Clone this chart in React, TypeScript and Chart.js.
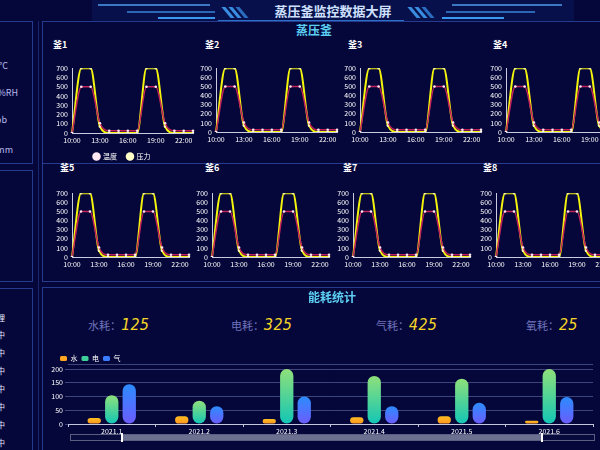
import React, { useEffect, useRef } from "react";
import { Chart, registerables } from "chart.js";
Chart.register(...registerables);

const FONT = "'Noto Sans CJK SC', 'Noto Sans', sans-serif";
Chart.defaults.font.family = FONT;

// ---- data ----
const hours = ["10:00", "11:00", "12:00", "13:00", "14:00", "15:00", "16:00", "17:00", "18:00", "19:00", "20:00", "21:00", "22:00", "23:00"];
const tempValues = [0, 500, 500, 105, 25, 25, 25, 25, 500, 500, 105, 25, 25, 25];
const pressureValues = [0, 700, 700, 70, 0, 0, 0, 0, 700, 700, 70, 0, 0, 0];
const kettleNames = ["釜1", "釜2", "釜3", "釜4", "釜5", "釜6", "釜7", "釜8"];
const lineSeriesNames = ["温度", "压力"];

const months = ["2021.1", "2021.2", "2021.3", "2021.4", "2021.5", "2021.6"];
const water = [22, 28, 18, 25, 28, 12];
const power = [105, 85, 200, 175, 165, 200];
const gas = [145, 65, 100, 65, 77, 98];
const barSeriesNames = ["水", "电", "气"];

const statLabels = ["水耗：", "电耗：", "气耗：", "氧耗："];
const statValues = ["125", "325", "425", "25"];
const sensorUnits = ["°C", "%RH", "ppb", "mm"];
const statusTexts = ["处理", "运行中", "运行中", "运行中", "运行中", "运行中", "运行中", "运行中"];

// ---- layout (styles) ----
const row1 = { top: 60, plotLefts: [72, 216, 360, 506], plotW: 122, titleX: [53, 205, 348, 493], titleY: 38 };
const row2 = { top: 185, plotLefts: [72, 212, 353, 496], plotW: 118, titleX: [60, 205, 343, 483], titleY: 161 };
const BORDER = "rgba(48,78,170,0.75)";

function KettleChart({ left, top, plotW, legend }: { left: number; top: number; plotW: number; legend: boolean }) {
  const ref = useRef<HTMLCanvasElement>(null);
  const yW = 22;
  const w = yW + plotW + 3;
  const h = legend ? 110 : 82;
  useEffect(() => {
    const chart = new Chart(ref.current!, {
      type: "line",
      data: {
        labels: hours,
        datasets: [
          {
            label: lineSeriesNames[0],
            data: tempValues,
            borderColor: "#c2235a",
            backgroundColor: "#fbe4ef",
            borderWidth: 1.5,
            pointRadius: 1.3,
            pointBackgroundColor: "#ffe8f2",
            pointBorderColor: "#ffe8f2",
            pointBorderWidth: 0,
            cubicInterpolationMode: "monotone",
          },
          {
            label: lineSeriesNames[1],
            data: pressureValues,
            borderColor: "#f4f40c",
            backgroundColor: "#ffffb8",
            borderWidth: 2,
            pointRadius: 1.3,
            pointBackgroundColor: "#ffffc8",
            pointBorderColor: "#ffffc8",
            pointBorderWidth: 0,
            cubicInterpolationMode: "monotone",
          },
        ],
      },
      options: {
        animation: false,
        responsive: false,
        maintainAspectRatio: false,
        layout: { padding: { top: 7, right: 3, left: 0, bottom: 0 } },
        plugins: {
          tooltip: { enabled: false },
          legend: {
            display: legend,
            position: "bottom",
            labels: {
              color: "#ffffff",
              font: { size: 7 },
              usePointStyle: true,
              pointStyle: "circle",
              boxWidth: 6,
              boxHeight: 6,
              padding: 10,
            },
          },
        },
        scales: {
          x: {
            grid: { display: false, drawTicks: false },
            border: { color: "#c9cbe0" },
            ticks: {
              color: "#ffffff",
              font: { size: 7 },
              padding: 3,
              autoSkip: false,
              maxRotation: 0,
              callback: (_v: any, i: number) => (i % 3 === 0 ? hours[i] : ""),
            },
            afterFit: (s: any) => {
              s.height = 10;
            },
          },
          y: {
            min: 0,
            max: 700,
            grid: { display: false, drawTicks: false },
            border: { color: "#c9cbe0" },
            ticks: { stepSize: 100, autoSkip: false, color: "#ffffff", font: { size: 7 }, padding: 4 },
            afterFit: (s: any) => {
              s.width = yW;
            },
          },
        },
      } as any,
    });
    return () => chart.destroy();
  }, []);
  return (
    <canvas
      ref={ref}
      width={w}
      height={h}
      style={{ position: "absolute", left: left - yW, top, width: w, height: h }}
    />
  );
}

function barGradient(ctx: any, top: string, bottom: string) {
  const chart = ctx.chart;
  const area = chart.chartArea;
  if (!area || ctx.raw == null) return bottom;
  const ys = chart.scales.y;
  const y0 = ys.getPixelForValue(0);
  const y1 = ys.getPixelForValue(ctx.raw);
  const g = chart.ctx.createLinearGradient(0, y1, 0, y0 === y1 ? y1 + 1 : y0);
  g.addColorStop(0, top);
  g.addColorStop(1, bottom);
  return g;
}

const barColors = [
  { top: "#ffbe22", bottom: "#ff9420", solid: "#ffa520" },
  { top: "#8fe07a", bottom: "#12c6b6", solid: "#3ccf9a" },
  { top: "#2c8cff", bottom: "#6d5cff", solid: "#3a7cff" },
];

// nudges the legend right so it starts where the reference's does
const legendShift = {
  id: "legendShift",
  afterLayout(chart: any) {
    if (chart.legend) {
      chart.legend.left += 6;
    }
  },
};

function EnergyChart() {
  const ref = useRef<HTMLCanvasElement>(null);
  useEffect(() => {
    const series = [water, power, gas];
    const chart = new Chart(ref.current!, {
      type: "bar",
      data: {
        labels: months,
        datasets: series.map((d, i) => ({
          label: barSeriesNames[i],
          data: d,
          backgroundColor: (c: any) => barGradient(c, barColors[i].top, barColors[i].bottom),
          borderRadius: 7,
          borderSkipped: false,
          categoryPercentage: 0.6,
          barPercentage: 0.76,
        })),
      },
      options: {
        animation: false,
        responsive: false,
        maintainAspectRatio: false,
        layout: { padding: { top: 0, right: 5, left: 6, bottom: 0 } },
        plugins: {
          tooltip: { enabled: false },
          legend: {
            position: "top",
            align: "start",
            maxHeight: 18,
            labels: {
              color: "#ffffff",
              font: { size: 7 },
              boxWidth: 7,
              boxHeight: 5,
              padding: 4,
              generateLabels: () =>
                barSeriesNames.map((n, i) => ({
                  text: n,
                  fillStyle: barColors[i].solid,
                  strokeStyle: barColors[i].solid,
                  lineWidth: 0,
                  fontColor: "#ffffff",
                  datasetIndex: i,
                  hidden: false,
                  borderRadius: 1.5,
                })),
            },
          },
        },
        scales: {
          x: {
            grid: { display: true, drawOnChartArea: false, drawTicks: true, tickLength: 3, color: "#c3c6dc", offset: true },
            border: { color: "#c3c6dc" },
            ticks: { color: "#ffffff", font: { size: 7 }, padding: 0, maxRotation: 0 },
            afterFit: (s: any) => {
              s.height = 12;
            },
          },
          y: {
            min: 0,
            max: 200,
            grid: { color: "rgba(110,120,180,0.55)", drawTicks: true, tickLength: 3 },
            border: { display: false },
            ticks: { stepSize: 50, autoSkip: false, color: "#ffffff", font: { size: 7 }, padding: 2 },
            afterFit: (s: any) => {
              s.width = 18;
            },
          },
        },
      } as any,
      plugins: [legendShift],
    });
    return () => chart.destroy();
  }, []);
  return (
    <canvas ref={ref} width={554} height={85} style={{ position: "absolute", left: 44, top: 351, width: 554, height: 85 }} />
  );
}

function Box({ l, t, w, h }: { l: number; t: number; w: number; h: number }) {
  return <div style={{ position: "absolute", left: l, top: t, width: w, height: h, border: `1px solid ${BORDER}`, boxSizing: "border-box" }} />;
}

function HLine({ l, t, w, c, h = 1 }: { l: number; t: number; w: number; c: string; h?: number }) {
  return <div style={{ position: "absolute", left: l, top: t, width: w, height: h, background: c }} />;
}

function Slant({ l, t, w, h, c }: { l: number; t: number; w: number; h: number; c: string }) {
  return (
    <div style={{ position: "absolute", left: l, top: t, width: w, height: h, background: c, transform: "skewX(40deg)" }} />
  );
}

export default function App() {
  const txt = (extra: any) => ({ position: "absolute" as const, fontFamily: FONT, whiteSpace: "nowrap" as const, ...extra });
  return (
    <div
      style={{
        position: "fixed",
        left: 0,
        top: 0,
        width: 600,
        height: 450,
        overflow: "hidden",
        background: "#05073a",
        fontFamily: FONT,
      }}
    >
      {/* header */}
      <div style={{ position: "absolute", left: 92, top: 0, width: 482, height: 21, background: "#07104a" }} />
      <HLine l={98} t={4} w={112} c="#3a78c4" h={2} />
      <HLine l={127} t={11} w={88} c="#2c66b4" h={2} />
      <HLine l={158} t={17} w={57} c="#3a98ee" h={2} />
      <HLine l={452} t={4} w={110} c="#3a78c4" h={2} />
      <HLine l={446} t={11} w={89} c="#2c66b4" h={2} />
      <HLine l={442} t={17} w={62} c="#3a98ee" h={2} />
      <Slant l={226} t={7} w={4} h={11} c="#3a8ce0" />
      <Slant l={233} t={7} w={4} h={11} c="#3a8ce0" />
      <Slant l={240} t={7} w={4} h={11} c="#2a6cc0" />
      <Slant l={412} t={7} w={4} h={11} c="#3a8ce0" />
      <Slant l={419} t={7} w={4} h={11} c="#3a8ce0" />
      <Slant l={426} t={7} w={4} h={11} c="#2a6cc0" />
      <HLine l={218} t={20} w={186} c="#2a70c8" />
      <div style={txt({ left: 200, top: 1, width: 266, textAlign: "center", fontSize: 13, fontWeight: 600, color: "#cfe0ff", lineHeight: "20px" })}>
        蒸压釜监控数据大屏
      </div>

      {/* left panels */}
      <Box l={-10} t={21} w={43} h={143} />
      <Box l={-10} t={170} w={43} h={112} />
      <Box l={-10} t={288} w={43} h={180} />
      <div style={{ position: "absolute", left: 38, top: 21, width: 1, height: 440, background: "rgba(48,78,170,0.45)" }} />
      {sensorUnits.map((u, i) => (
        <div
          key={u}
          style={txt({
            left: [-40, -30, -41, -35][i],
            top: [60, 87, 114, 144][i],
            width: 48,
            textAlign: "right",
            fontSize: 9,
            color: "#b6b9ee",
            lineHeight: "12px",
          })}
        >
          {u}
        </div>
      ))}
      {statusTexts.map((s, i) => (
        <div
          key={i}
          style={txt({ left: -43, top: [312, 329, 347, 365, 383, 401, 419, 437][i], width: 48, textAlign: "right", fontSize: 8, color: "#e6e8ff", lineHeight: "11px" })}
        >
          {s}
        </div>
      ))}

      {/* main panels */}
      <Box l={42} t={21} w={570} h={261} />
      <HLine l={42} t={163} w={570} c={BORDER} />
      <Box l={42} t={287} w={570} h={180} />

      <div style={txt({ left: 280, top: 22, width: 68, textAlign: "center", fontSize: 12, fontWeight: 700, color: "#5ccff2", lineHeight: "16px" })}>
        蒸压釜
      </div>

      {kettleNames.map((n, i) => {
        const r = i < 4 ? row1 : row2;
        const k = i % 4;
        return (
          <div key={n} style={txt({ left: r.titleX[k], top: r.titleY, fontSize: 9, fontWeight: 700, color: "#ffffff", lineHeight: "13px" })}>
            {n}
          </div>
        );
      })}
      {kettleNames.map((n, i) => {
        const r = i < 4 ? row1 : row2;
        const k = i % 4;
        return <KettleChart key={"c" + n} left={r.plotLefts[k]} top={r.top} plotW={r.plotW} legend={i === 0} />;
      })}

      {/* energy */}
      <div style={txt({ left: 292, top: 289, width: 80, textAlign: "center", fontSize: 12, fontWeight: 700, color: "#5ccff2", lineHeight: "16px" })}>
        能耗统计
      </div>
      {statLabels.map((l, i) => (
        <div key={l} style={txt({ left: [88, 231, 376, 526][i], top: 315, lineHeight: "16px" })}>
          <span style={{ fontSize: 11, color: "#6f73ba" }}>{l}</span>
          <span
            style={{
              fontSize: 15,
              color: "#f6d526",
              fontFamily: "'DejaVu Sans Mono', monospace",
              fontStyle: "italic",
              letterSpacing: 0.5,
            }}
          >
            {statValues[i]}
          </span>
        </div>
      ))}

      <HLine l={68} t={364} w={525} c="rgba(110,120,180,0.55)" />
      <EnergyChart />

      {/* data zoom slider */}
      <div style={{ position: "absolute", left: 70, top: 434, width: 525, height: 7, border: "1px solid #5a5f82", boxSizing: "border-box", background: "#070a3c" }} />
      <div style={{ position: "absolute", left: 122, top: 435, width: 420, height: 5, background: "#6c7090" }} />
      <div style={{ position: "absolute", left: 121, top: 433, width: 2, height: 9, background: "#ffffff" }} />
      <div style={{ position: "absolute", left: 541, top: 433, width: 2, height: 9, background: "#ffffff" }} />
    </div>
  );
}
